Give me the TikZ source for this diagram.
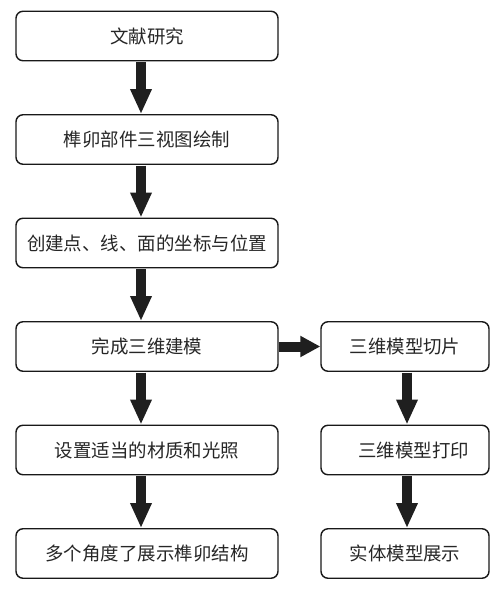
\documentclass[tikz,border=0pt]{standalone}
\usepackage{fontspec}
\newfontfamily\cjk{Noto Sans CJK SC}
\usepackage{tikz}
\usetikzlibrary{arrows.meta, positioning}
\tikzset{procbox/.style={draw=black!90, line width=0.8pt, rounded corners=4pt, minimum height=0.99cm, inner sep=0pt, text=black!85, font=\cjk\fontsize{10.5}{12}\selectfont},
    leftbox/.style={procbox, minimum width=5.24cm},
    rightbox/.style={procbox, minimum width=3.36cm},
    fatarrow/.style={line width=0.2cm, draw=black!88, -{Triangle[width=0.4cm, length=0.5cm]}, shorten <=0.4pt}}

\begin{document}
\begin{tikzpicture}
                \useasboundingbox (0,0) rectangle (10.02,-11.92);

                 % left column
                 \node[leftbox] (lit) at (2.94,-0.72) {文献研究};
                 \node[leftbox] (views) at (2.94,-2.79) {榫卯部件三视图绘制};
                 \node[leftbox] (coords) at (2.94,-4.86) {创建点、线、面的坐标与位置};
                 \node[leftbox] (model) at (2.94,-6.93) {完成三维建模};
                 \node[leftbox] (material) at (2.94,-9.00) {设置适当的材质和光照};
                 \node[leftbox] (show) at (2.94,-11.07) {多个角度了展示榫卯结构};

                 % right column
                 \node[rightbox] (slice) at (8.10,-6.93) {三维模型切片};
                 \node[rightbox] (print) at (8.10,-9.00) {\hspace{0.35cm}三维模型打印};
                 \node[rightbox] (solid) at (8.10,-11.07) {实体模型展示};

                 \draw[fatarrow] ([xshift=-0.12cm]lit.south) -- ([xshift=-0.12cm]views.north);
                 \draw[fatarrow] ([xshift=-0.12cm]views.south) -- ([xshift=-0.12cm]coords.north);
                 \draw[fatarrow] ([xshift=-0.12cm]coords.south) -- ([xshift=-0.12cm]model.north);
                 \draw[fatarrow] ([xshift=-0.12cm]model.south) -- ([xshift=-0.12cm]material.north);
                 \draw[fatarrow] ([xshift=-0.12cm]material.south) -- ([xshift=-0.12cm]show.north);

                 \draw[fatarrow, -{Triangle[width=0.4cm, length=0.4cm]}] (model.east) -- (slice.west);
                 \draw[fatarrow] ([xshift=0.04cm]slice.south) -- ([xshift=0.04cm]print.north);
                 \draw[fatarrow] ([xshift=0.04cm]print.south) -- ([xshift=0.04cm]solid.north);

\end{tikzpicture}
\end{document}
